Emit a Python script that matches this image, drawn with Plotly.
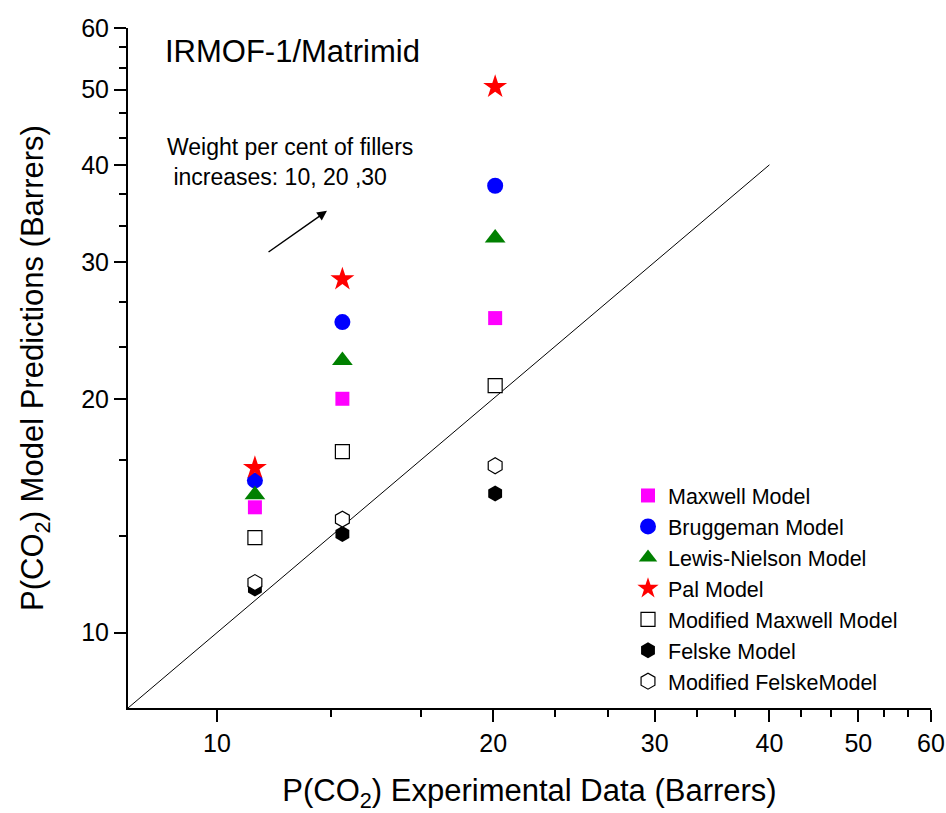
import plotly.graph_objects as go
import math

# ---------------- data ----------------
x_exp = [11.0, 13.7, 20.1]
maxwell = [14.5, 20.0, 25.4]
bruggeman = [15.7, 25.1, 37.6]
lewis_nielson = [15.05, 22.4, 32.2]
pal = [16.3, 28.5, 50.4]
mod_maxwell = [13.25, 17.1, 20.8]
felske = [11.4, 13.4, 15.1]
mod_felske = [11.6, 14.0, 16.4]

parity_line = [8, 40]

tick_vals = [10, 20, 30, 40, 50, 60]
minor_vals = [13.33, 16.67, 23.33, 26.67, 33.33, 36.67, 43.33, 46.67, 53.33, 56.67]

FONT = "Liberation Sans, Arial, sans-serif"

fig = go.Figure()

fig.add_trace(go.Scatter(x=parity_line, y=parity_line, mode="lines",
                         line=dict(color="black", width=1), showlegend=False, hoverinfo="skip"))

series = [
    ("Maxwell Model", maxwell, dict(symbol="square", size=14, color="#ff00ff")),
    ("Bruggeman Model", bruggeman, dict(symbol="circle", size=16, color="#0000ff")),
    ("Lewis-Nielson Model", lewis_nielson, dict(symbol="triangle-up", size=18, color="#008000")),
    ("Pal Model", pal, dict(symbol="star", size=18, color="#ff0000")),
    ("Modified Maxwell Model", mod_maxwell, dict(symbol="square", size=14, color="white",
                                                  line=dict(color="black", width=1.2))),
    ("Felske Model", felske, dict(symbol="hexagon", size=16, color="black")),
    ("Modified FelskeModel", mod_felske, dict(symbol="hexagon", size=16, color="white",
                                              line=dict(color="black", width=1.2))),
]
for name, yv, mk in series:
    fig.add_trace(go.Scatter(x=x_exp, y=yv, mode="markers", name=name, marker=mk))

axis_common = dict(
    type="log", range=[math.log10(8), math.log10(60)], automargin=False,
    showgrid=False, zeroline=False, showline=True, linecolor="black", linewidth=2,
    ticks="outside", ticklen=12, tickwidth=2, tickcolor="black",
    tickmode="array", tickvals=tick_vals, ticktext=[str(v) for v in tick_vals],
    tickfont=dict(family=FONT, size=25, color="black"),
    minor=dict(tickmode="array", tickvals=minor_vals, ticks="outside", ticklen=7,
               tickwidth=2, tickcolor="black", showgrid=False),
    mirror=False,
)

fig.update_layout(
    width=946, height=813,
    margin=dict(l=128, r=15, t=28, b=105),
    paper_bgcolor="white", plot_bgcolor="white",
    font=dict(family=FONT, color="black"),
    xaxis=dict(axis_common,
               title=dict(text="P(CO<sub>2</sub>) Experimental Data (Barrers)",
                          font=dict(family=FONT, size=31, color="black"), standoff=24)),
    yaxis=dict(axis_common,
               title=dict(text="P(CO<sub>2</sub>) Model Predictions (Barrers)",
                          font=dict(family=FONT, size=31, color="black"), standoff=28)),
    legend=dict(x=(628 - 128) / 803, y=(708 - 475) / 680, xanchor="left", yanchor="top",
                bgcolor="rgba(0,0,0,0)", font=dict(family=FONT, size=21.5, color="black"),
                tracegroupgap=0, itemsizing="trace"),
    showlegend=True,
)

fig.add_annotation(text="IRMOF-1/Matrimid", xref="paper", yref="paper",
                   x=(163 - 128) / 803, y=(708 - 52) / 680, xanchor="left", yanchor="middle",
                   showarrow=False, font=dict(family=FONT, size=31, color="black"))
fig.add_annotation(text="Weight per cent of fillers<br> increases: 10, 20 ,30", xref="paper", yref="paper",
                   x=(165 - 128) / 803, y=(708 - 162) / 680, xanchor="left", yanchor="middle",
                   align="left", showarrow=False, font=dict(family=FONT, size=23, color="black"))
fig.add_annotation(x=math.log10(13.18), y=math.log10(34.9), ax=math.log10(11.34), ay=math.log10(30.8),
                   xref="x", yref="y", axref="x", ayref="y", text="", showarrow=True,
                   arrowhead=2, arrowsize=1.3, arrowwidth=1.5, arrowcolor="black")

fig.write_html("out.html")
